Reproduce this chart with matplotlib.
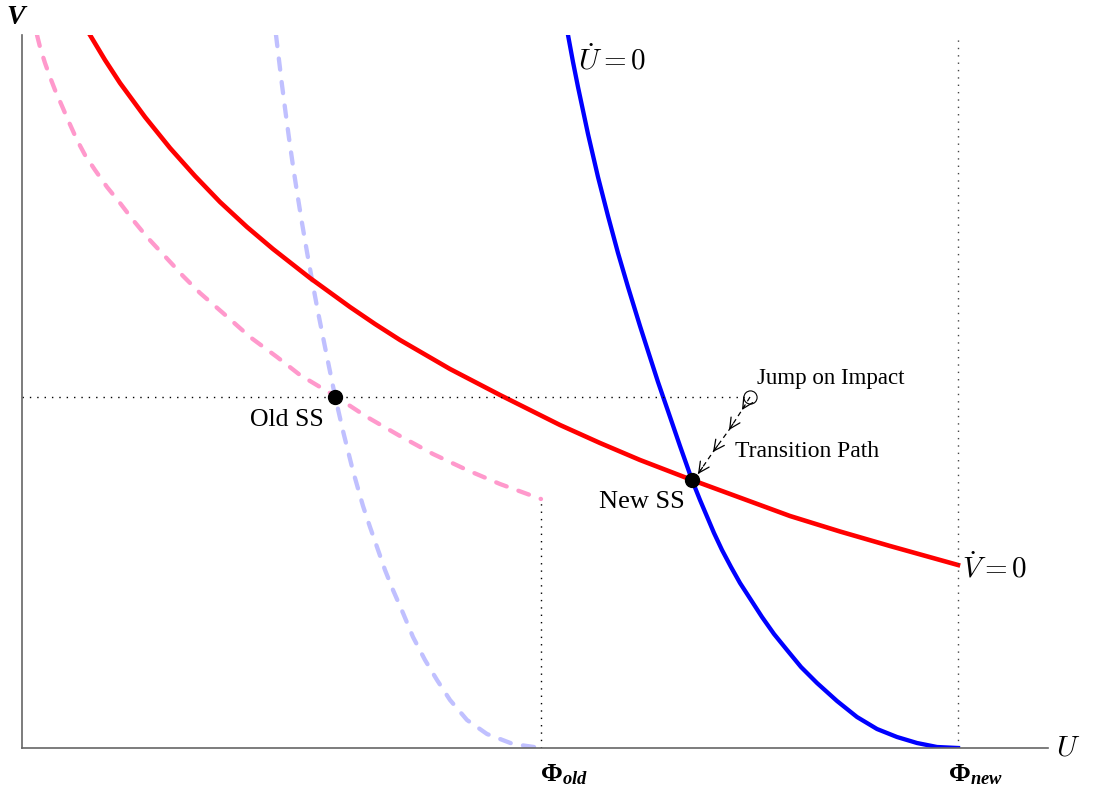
import numpy as np
import matplotlib
matplotlib.use("Agg")
import matplotlib.pyplot as plt

plt.rcParams['mathtext.fontset'] = 'cm'
plt.rcParams['mathtext.rm'] = 'Liberation Serif:bold'
plt.rcParams['mathtext.it'] = 'Liberation Serif:italic:bold'
plt.rcParams['mathtext.bf'] = 'Liberation Serif:bold'
plt.rcParams['font.family'] = ['Liberation Serif', 'DejaVu Serif']

# curves (arbitrary units)
vdot_u = [68, 83, 98, 123, 148, 173, 198, 225, 251, 288, 328, 353, 378, 428, 453, 478,
          538, 578, 618, 670, 719, 768, 818, 868, 936]
vdot_v = [713, 688, 665, 631, 600, 572, 546, 521, 499, 470, 441, 424, 408, 379, 366, 353,
          323, 305, 288, 268, 250, 232, 216.5, 202, 183]

udot_u = [546, 551, 556, 566, 576, 586, 596, 606, 618, 626, 636, 646, 658, 670, 678, 692,
          700, 709, 718, 729, 740, 752, 765, 779, 795, 815, 835, 855, 875, 895, 915, 936]
udot_v = [713, 686, 661, 614, 571, 532, 495, 461, 422, 397, 366, 337, 302, 268, 248, 215,
          198, 181, 165, 148, 131, 114, 98, 81, 65, 47, 31, 19, 11, 5, 1, 0]

old_vdot_u = [15, 18, 23, 28, 33, 40, 46, 55, 63, 73, 85, 98, 111, 125, 138, 151, 161, 178,
              201, 228, 255, 278, 298, 313, 345, 378, 411, 445, 478, 519]
old_vdot_v = [713, 701, 685, 671, 658, 642, 628, 608, 593, 578, 561, 545, 528, 511, 497, 483,
              472, 455, 435, 411, 391, 373, 361, 352, 331, 312, 294, 278, 264, 249]

old_udot_u = [254, 257, 260, 263.5, 267, 271, 275, 280, 285, 290, 296, 303, 313, 321, 331,
              341, 348, 355, 363, 371, 381, 391, 403, 415, 428, 445, 465, 491, 519]
old_udot_v = [713, 688, 663, 636, 610, 582, 556, 525, 496, 468, 436, 401, 352, 317, 277,
              242, 221, 201, 178, 158, 135, 111, 88, 68, 48, 28, 14, 4, 0]

old_ss = (313, 351)
new_ss = (670, 268)
phi_old = 519
phi_new = 936
jump = (728, 351)
path_u = [728, 720, 707, 691, 676]
path_v = [351, 338, 318, 296, 274]

fig = plt.figure(figsize=(10.93, 7.93), dpi=100)
ax = fig.add_axes([22 / 1093, 45 / 793, 1026 / 1093, 713 / 793])
ax.set_xlim(0, 1026)
ax.set_ylim(0, 713)
for s in ['top', 'right']:
    ax.spines[s].set_visible(False)
for s in ['left', 'bottom']:
    ax.spines[s].set_color('#666666')
    ax.spines[s].set_linewidth(1.2)
ax.set_xticks([])
ax.set_yticks([])

# old curves (dashed, light)
dash = (0, (2.6, 2.9))
ax.plot(old_vdot_u, old_vdot_v, color='#ff99cc', lw=3.1, ls=dash, dash_capstyle='round')
ax.plot(old_udot_u, old_udot_v, color='#c0c0ff', lw=3.1, ls=dash, dash_capstyle='round')

# new curves
ax.plot(vdot_u, vdot_v, color='red', lw=3.3)
ax.plot(udot_u, udot_v, color='blue', lw=3.1)

# dotted guides
ax.plot([0, jump[0] - 6], [old_ss[1], old_ss[1]], color='black', lw=1, ls=(0, (1, 4.3)))
ax.plot([phi_old, phi_old], [0, old_vdot_v[-1]], color='black', lw=1, ls=(0, (1, 4.3)))
ax.plot([phi_new, phi_new], [0, 713], color='#444444', lw=1, ls=(0, (1, 4.3)))

# steady states
ax.plot(*old_ss, 'o', color='black', ms=10)
ax.plot(*new_ss, 'o', color='black', ms=10)
ax.plot(*jump, 'o', mfc='none', mec='black', ms=9.5, mew=0.8)

# transition path
ax.plot(path_u + [new_ss[0]], path_v + [new_ss[1]], color='black', lw=0.9, ls=(0, (4, 3)))
for i in range(1, len(path_u)):
    du = path_u[i] - path_u[i - 1]
    dv = path_v[i] - path_v[i - 1]
    ax.annotate('', xy=(path_u[i], path_v[i]),
                xytext=(path_u[i] - 0.3 * du, path_v[i] - 0.3 * dv),
                arrowprops=dict(arrowstyle='->', lw=0.9, color='black',
                                shrinkA=0, shrinkB=0, mutation_scale=19))

ax.text(jump[0] + 7, jump[1] + 18, 'Jump on Impact', fontsize=16.5, ha='left', va='center')
ax.text(713, 296, 'Transition Path', fontsize=17, ha='left', va='center')
ax.text(265, 328, 'Old SS', fontsize=18.5, ha='center', va='center')
ax.text(620, 246, 'New SS', fontsize=19, ha='center', va='center')
ax.text(556, 688, r'$\dot{U}=0$', fontsize=21, ha='left', va='center')
ax.text(940, 180, r'$\dot{V}=0$', fontsize=21, ha='left', va='center')

ax.text(phi_old - 1, -27, r'$\mathbf{\Phi}_{old}$', fontsize=19, ha='left', va='center',
        clip_on=False, math_fontfamily='custom')
ax.text(phi_new - 10, -27, r'$\mathbf{\Phi}_{new}$', fontsize=19, ha='left', va='center',
        clip_on=False, math_fontfamily='custom')
ax.text(-5, 730, r'$V$', fontsize=20, ha='center', va='center', clip_on=False,
        math_fontfamily='custom')
ax.text(1046, 0, r'$U$', fontsize=21, ha='center', va='center', clip_on=False)

fig.savefig('out.png', dpi=100)
